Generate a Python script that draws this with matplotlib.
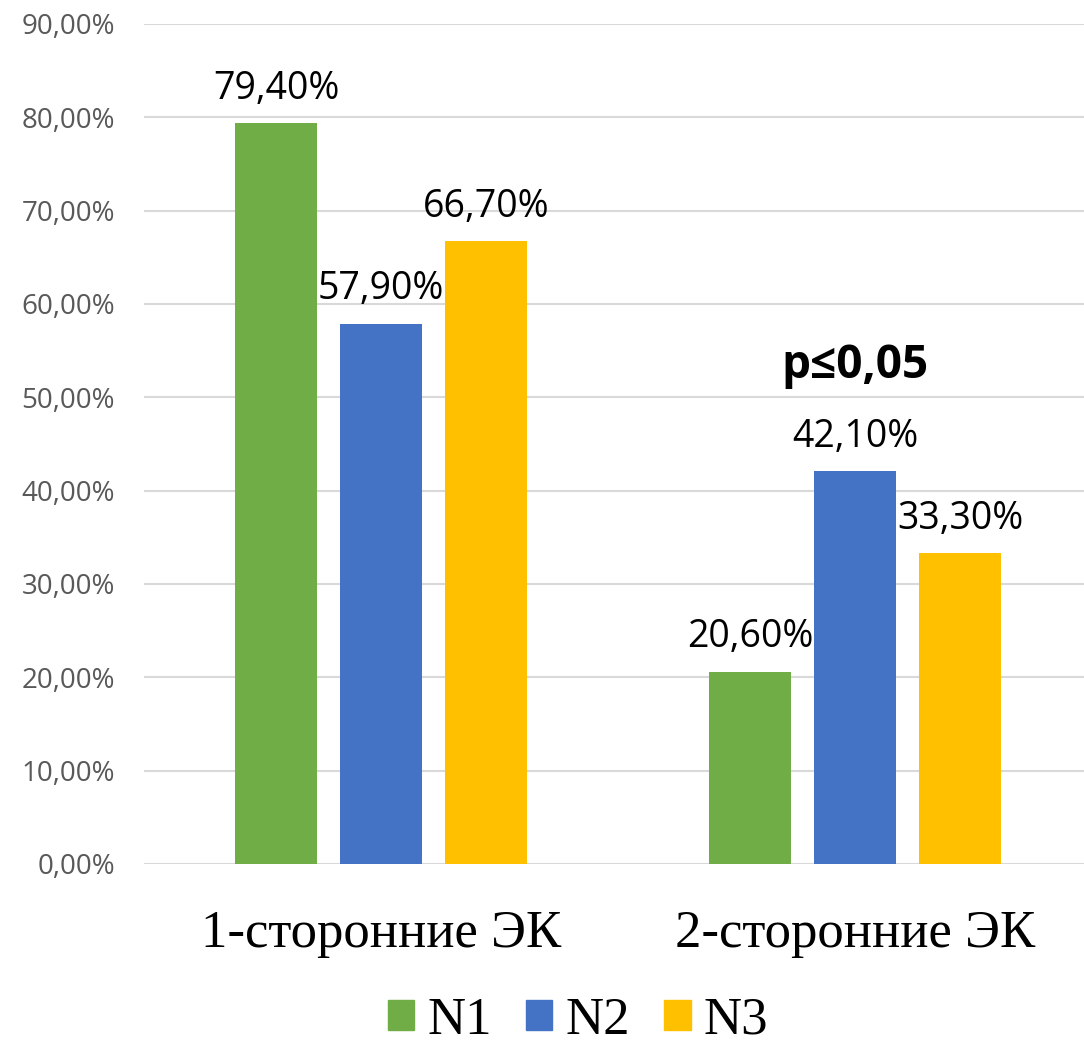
import numpy as np
import matplotlib.pyplot as plt
from matplotlib.patches import Patch

# Share of cases by group, percent
categories = ["1-сторонние ЭК", "2-сторонние ЭК"]
series = ["N1", "N2", "N3"]
n1 = [79.4, 20.6]
n2 = [57.9, 42.1]
n3 = [66.7, 33.3]
colors = ["#70AD47", "#4472C4", "#FFC000"]
y_ticks = np.arange(0, 91, 10)

fig = plt.figure(figsize=(10.84, 10.45), dpi=100)
ax = fig.add_axes([144/1084, 1 - 864/1045, 1 - 144/1084, (864 - 24)/1045])

x = np.arange(len(categories))
width = 0.173
step = 0.2215
for i, (vals, c) in enumerate(zip([n1, n2, n3], colors)):
    pos = x + (i - 1)*step
    ax.bar(pos, vals, width, color=c, zorder=3)
    for px, v in zip(pos, vals):
        ax.annotate(f"{v:.2f}%".replace(".", ","), (px, v), xytext=(0, 11),
                    textcoords="offset points", ha="center", va="bottom",
                    fontsize=27, family="Open Sans", color="black")

ax.text(1, 53.4, "p≤0,05", ha="center", va="center", fontsize=33,
        fontweight="bold", family="Open Sans")

ax.set_xlim(-0.5, 1.483)
ax.set_ylim(0, 90)
ax.set_yticks(y_ticks)
ax.set_yticklabels([f"{t:.2f}%".replace(".", ",") for t in y_ticks],
                   fontsize=20, family="Open Sans", color="#595959")
ax.set_xticks(x)
ax.set_xticklabels(categories, fontsize=38, family="Liberation Serif")
ax.tick_params(axis="both", length=0)
ax.tick_params(axis="x", pad=33)
ax.tick_params(axis="y", pad=21)
ax.grid(axis="y", color="#D9D9D9", linewidth=1.5, zorder=0)
for s in ax.spines.values():
    s.set_visible(False)

handles = [Patch(color=c, label=s) for c, s in zip(colors, series)]
fig.legend(handles=handles, loc="center", bbox_to_anchor=(578/1084, 1 - 1021/1045),
           ncol=3, frameon=False, prop={"family": "Liberation Serif", "size": 38},
           handlelength=0.5, handleheight=0.5, handletextpad=0.25,
           columnspacing=0.65, borderpad=0.1)

fig.savefig("out.png", dpi=100)
